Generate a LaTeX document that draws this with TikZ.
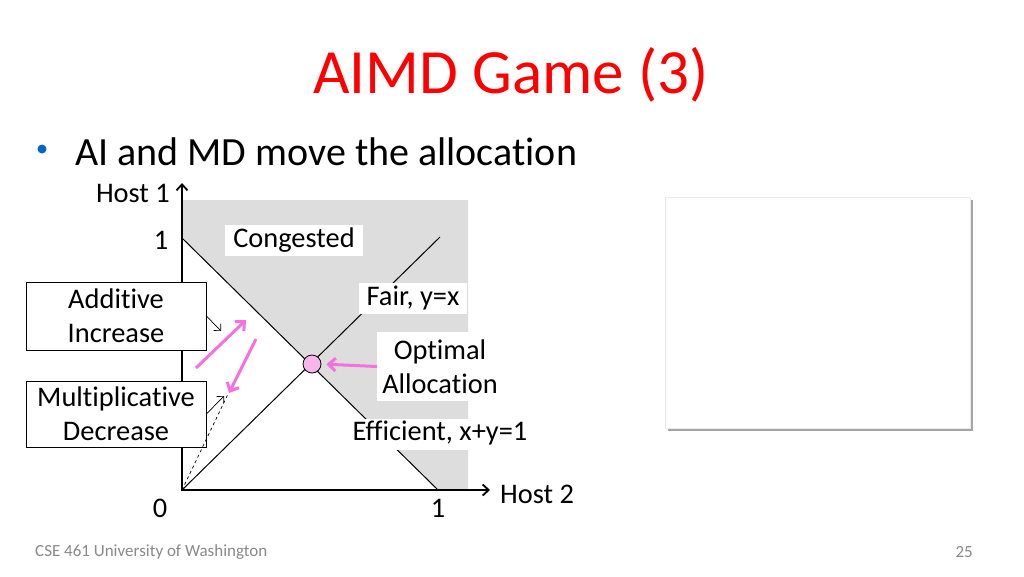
\documentclass[tikz,border=0pt]{standalone}
\usepackage{fontspec}
\setmainfont{Carlito}[Ligatures=NoCommon]
\usetikzlibrary{arrows.meta,positioning,shadows}

\definecolor{titlered}{RGB}{255,0,0}
\definecolor{bulletblue}{RGB}{0,102,204}
\definecolor{congray}{RGB}{221,221,221}
\definecolor{aimdpink}{RGB}{246,112,224}
\definecolor{dotpink}{RGB}{247,182,234}
\definecolor{footgray}{RGB}{137,137,137}

\begin{document}
\begin{tikzpicture}[
  x=1pt, y=-1pt,
  every node/.style={font=\fontsize{28.4}{34}\selectfont, inner sep=0pt},
  axis/.style={-{Straight Barb[length=6pt,width=11pt]}, line width=1.8pt},
  move/.style={-{Straight Barb[length=7pt,width=13pt]}, aimdpink, line width=3pt},
  note/.style={draw, line width=0.8pt, fill=white, minimum width=180pt, align=center},
  tag/.style={fill=white, inner xsep=8pt, text height=19pt, text depth=6pt, inner ysep=3pt},
  pointer/.style={-{Straight Barb[length=5pt,width=10pt]}, line width=0.7pt},
  ]

\useasboundingbox (0,0) rectangle (1024,576);
\fill[white] (0,0) rectangle (1024,576);

% Slide text
\node[font=\fontsize{63}{70}\selectfont, text=titlered, anchor=base] (title) at (511,93) {AIMD Game (3)};
\node[circle, fill=bulletblue, minimum size=9pt] (bullet) at (42,149) {};
\node[font=\fontsize{40}{48}\selectfont, anchor=base west] (point) at (75,165) {AI and MD move the allocation};

% Axes and lines
\coordinate (O) at (182,490);
\coordinate (ytop) at (182,183);
\coordinate (xend) at (490,490);
\coordinate (yOne) at (182,238);
\coordinate (xOne) at (438,490);
\coordinate (fairEnd) at (440,237);

\fill[congray] (182,200) -- (468,200) -- (468,490) -- (xOne) -- (yOne) -- cycle;
\draw[line width=1pt] (yOne) -- (xOne);
\draw[line width=1pt] (O) -- (fairEnd);
\draw[axis] ([yshift=-1pt]O) -- (ytop);
\draw[axis] ([xshift=-1pt]O) -- (xend);

\node[anchor=east] (host1) at (170,193) {Host 1};
\node (tickY) at (161,240) {1};
\node (tickO) at (160,508) {0};
\node (tickX) at (438,508) {1};
\node[anchor=west] (host2) at (500,494) {Host 2};

% Region labels
\node[tag] (cong) at (294,240.5) {Congested};
\node[tag] (fair) at (413,298.5) {Fair, y=x};
\node[tag] (eff) at (440,434) {Efficient, x+y=1};
\node[fill=white, align=center, minimum width=126pt, minimum height=69pt] (opt) at (440,366.5) {Optimal\\Allocation};
\node[circle, draw, line width=0.8pt, fill=dotpink, minimum size=18pt] (dot) at (312,364) {};

% Boxes
\node[note, minimum height=68pt] (AI) at (116,316) {Additive\\Increase};
\node[note, minimum height=66pt] (MD) at (116,414) {Multiplicative\\Decrease};

% Arrows
\coordinate (aiTip) at (221,331);
\coordinate (mdTip) at (224,396);
\coordinate (aiFrom) at (196,368);
\coordinate (aiTo) at (246,320);
\coordinate (mdFrom) at (256,339);
\coordinate (mdTo) at (229,393);

\draw[pointer] (AI.east) -- (aiTip);
\draw[pointer] (MD.east) -- (mdTip);
\draw[dashed, line width=0.7pt] (O) -- (228,394);
\draw[move] (aiFrom) -- (aiTo);
\draw[move] (mdFrom) -- (mdTo);
\draw[move, shorten >=5pt] (opt.west) -- (dot.east);

% Blank panel
\node[draw=black!8, fill=white, minimum width=305pt, minimum height=231pt,
  drop shadow={shadow xshift=3pt, shadow yshift=-3pt, opacity=0.5, fill=black!70}] (panel) at (817.5,312.5) {};

% Footer
\node[font=\fontsize{17}{20}\selectfont, text=footgray, anchor=west] (foot) at (35,552) {CSE 461 University of Washington};
\node[font=\fontsize{17}{20}\selectfont, text=footgray, anchor=east] (page) at (973,552) {25};

\end{tikzpicture}
\end{document}
